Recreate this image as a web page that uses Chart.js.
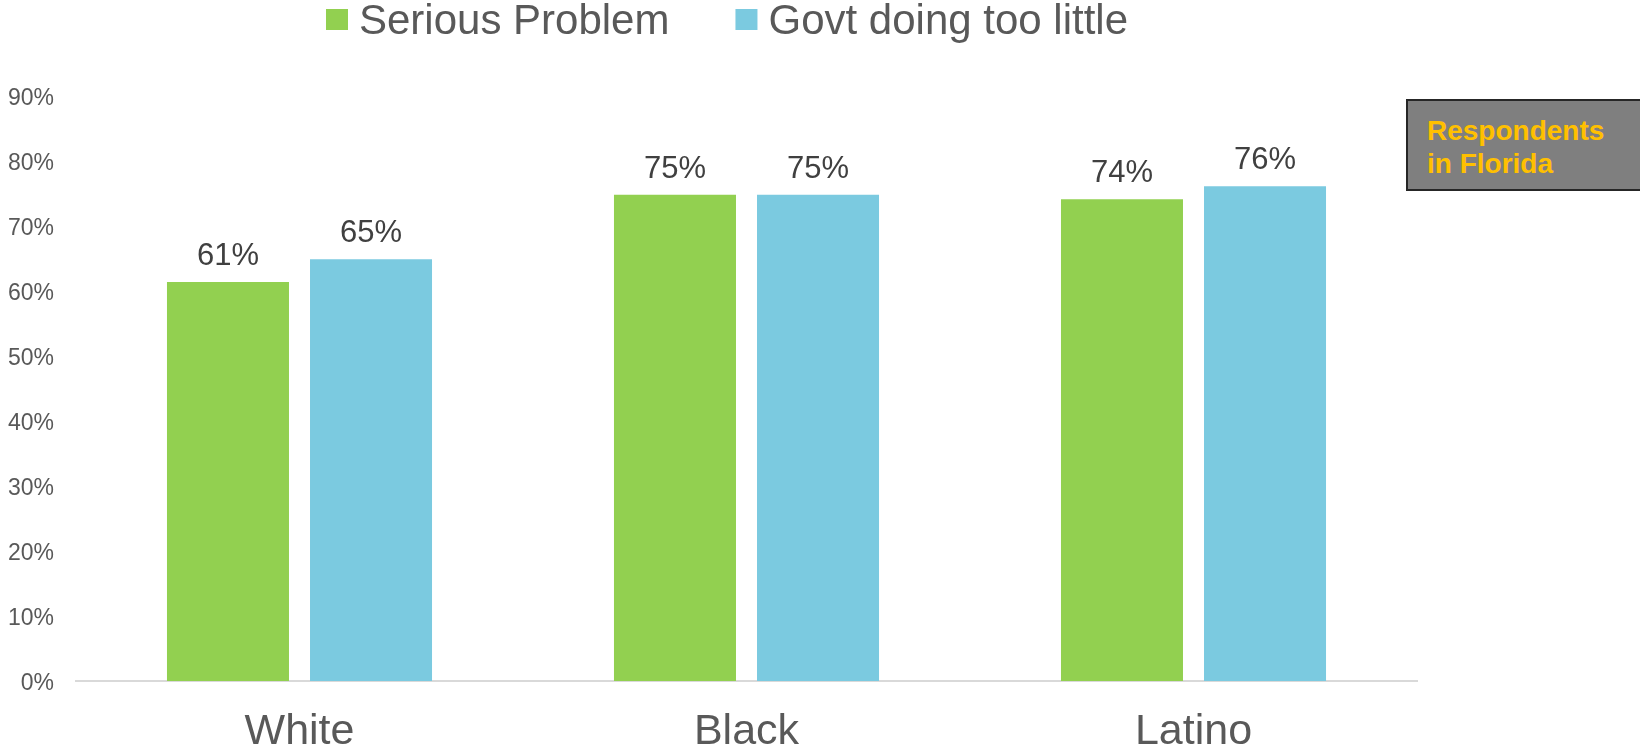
<!DOCTYPE html>
<html>
<head>
<meta charset="utf-8">
<script src="https://cdn.jsdelivr.net/npm/chart.js@4.4.0/dist/chart.umd.min.js"></script>
<style>
  body { margin: 0; overflow: hidden; background: #fff; }
  #wrap { position: relative; width: 1640px; height: 751px; }
  #note {
    position: absolute; left: 1406px; top: 99px; width: 250px; height: 92px;
    box-sizing: border-box; border: 2px solid #262626; background: #7f7f7f;
    padding: 13px 0 0 19px; color: #ffc000;
    font: bold 28px "Liberation Sans", Arial, sans-serif; line-height: 33px;
  }
</style>
</head>
<body>
<div id="wrap">
  <canvas id="chart" width="1640" height="751"></canvas>
  <div id="note">Respondents<br>in Florida</div>
</div>
<script>
// --- Data ---
const categories = ['White', 'Black', 'Latino'];
const seriousProblem = [61.4, 74.8, 74.1];
const govtTooLittle = [64.9, 74.8, 76.1];
const seriesNames = ['Serious Problem', 'Govt doing too little'];
const seriesColors = ['#92d050', '#7bcae0'];
const yMax = 90;
const yStep = 10;

const FONT = '"Liberation Sans", Arial, sans-serif';

// legend drawn by hand so the box/text gap matches the original
const topLegend = {
    id: 'topLegend',
    afterDraw(chart) {
        const ctx = chart.ctx;
        ctx.save();
        ctx.font = '42px ' + FONT;
        ctx.textBaseline = 'alphabetic';
        const box = 22, gap = 11, spacing = 66;
        const items = chart.data.datasets.map(ds => ({
            label: ds.label, color: ds.backgroundColor,
            w: box + gap + ctx.measureText(ds.label).width
        }));
        const total = items.reduce((s, it) => s + it.w, 0) + spacing * (items.length - 1);
        let x = 727 - total / 2;
        items.forEach(it => {
            ctx.fillStyle = it.color;
            ctx.fillRect(x, 9, box, 21);
            ctx.fillStyle = '#595959';
            ctx.fillText(it.label, x + box + gap, 34);
            x += it.w + spacing;
        });
        ctx.restore();
    }
};

// value labels above each bar
const barLabels = {
    id: 'barLabels',
    afterDatasetsDraw(chart) {
        const ctx = chart.ctx;
        ctx.save();
        ctx.font = '31px ' + FONT;
        ctx.fillStyle = '#404040';
        ctx.textAlign = 'center';
        ctx.textBaseline = 'alphabetic';
        chart.data.datasets.forEach((ds, i) => {
            chart.getDatasetMeta(i).data.forEach((bar, j) => {
                ctx.fillText(Math.round(ds.data[j]) + '%', bar.x, bar.y - 17);
            });
        });
        ctx.restore();
    }
};

new Chart(document.getElementById('chart'), {
    type: 'bar',
    data: {
        labels: categories,
        datasets: [
            { label: seriesNames[0], data: seriousProblem, backgroundColor: seriesColors[0] },
            { label: seriesNames[1], data: govtTooLittle, backgroundColor: seriesColors[1] }
        ]
    },
    options: {
        responsive: false,
        animation: false,
        devicePixelRatio: 1,
        categoryPercentage: 0.64,
        barPercentage: 0.853,
        layout: { padding: { top: 96, right: 223, bottom: -33, left: 0 } },
        plugins: { legend: { display: false }, tooltip: { enabled: false } },
        scales: {
            x: {
                grid: { display: false, drawTicks: false },
                border: { display: true, color: '#d9d9d9', width: 2 },
                ticks: { color: '#595959', padding: 30, font: { family: FONT, size: 43, lineHeight: 1 } }
            },
            y: {
                min: 0,
                max: yMax,
                afterFit(scale) { scale.width = 76; },
                grid: { display: false, drawTicks: false },
                border: { display: false },
                ticks: {
                    stepSize: yStep,
                    padding: 22,
                    labelOffset: 3,
                    color: '#595959',
                    font: { family: FONT, size: 23 },
                    callback: v => v + '%'
                }
            }
        }
    },
    plugins: [topLegend, barLabels]
});
</script>
</body>
</html>
